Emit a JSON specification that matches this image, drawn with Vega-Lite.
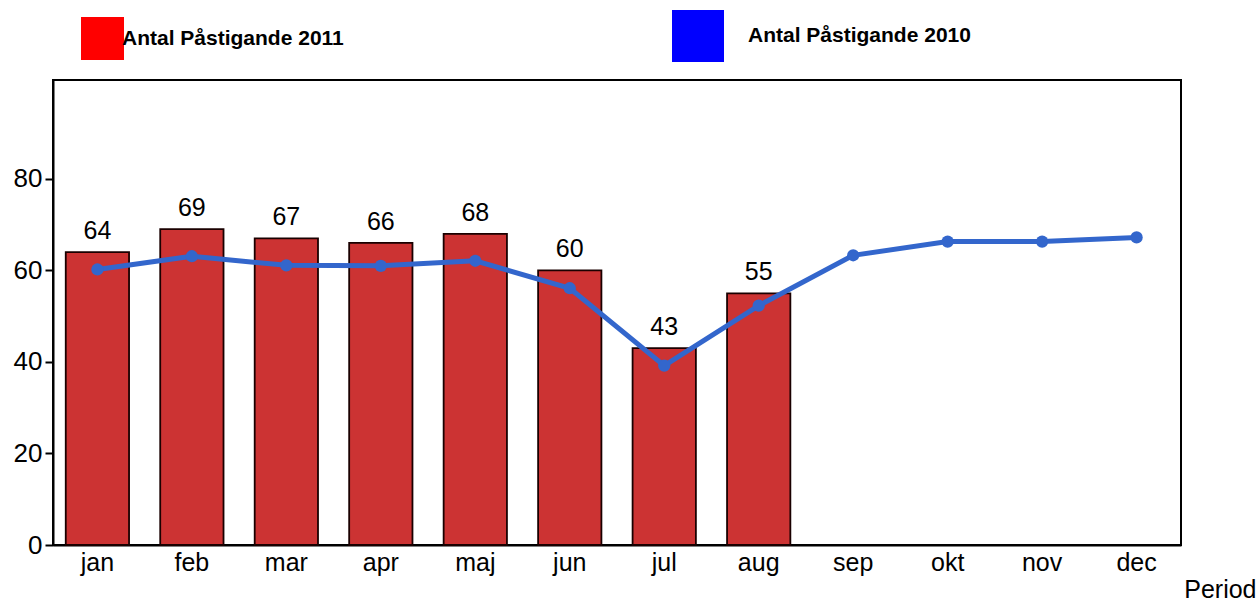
{
  "$schema": "https://vega.github.io/schema/vega-lite/v6.json",
  "width": 1128,
  "height": 465,
  "autosize": {"type": "none"},
  "padding": {"left": 53, "top": 80, "right": 79, "bottom": 56},
  "background": "white",
  "config": {
    "font": "Liberation Sans",
    "view": {"stroke": "black", "strokeWidth": 2},
    "axis": {"labelFont": "Liberation Sans", "titleFont": "Liberation Sans", "labelColor": "black", "titleColor": "black", "domainColor": "black", "tickColor": "black", "grid": false}
  },
  "data": {
    "values": [
      {"month": "jan", "v2011": 64, "v2010": 60.2},
      {"month": "feb", "v2011": 69, "v2010": 63.1},
      {"month": "mar", "v2011": 67, "v2010": 61.1},
      {"month": "apr", "v2011": 66, "v2010": 61},
      {"month": "maj", "v2011": 68, "v2010": 62.1},
      {"month": "jun", "v2011": 60, "v2010": 56.1},
      {"month": "jul", "v2011": 43, "v2010": 39.2},
      {"month": "aug", "v2011": 55, "v2010": 52.3},
      {"month": "sep", "v2011": null, "v2010": 63.3},
      {"month": "okt", "v2011": null, "v2010": 66.3},
      {"month": "nov", "v2011": null, "v2010": 66.3},
      {"month": "dec", "v2011": null, "v2010": 67.2}
    ]
  },
  "encoding": {
    "x": {
      "field": "month", "type": "nominal", "sort": null,
      "scale": {"paddingInner": 0.33, "paddingOuter": 0.135},
      "axis": {"labelAngle": 0, "labelFontSize": 25, "ticks": false, "labelPadding": 5, "domainWidth": 2,
               "title": "Period", "titleFontSize": 25, "titleFontWeight": "normal", "titleAlign": "right", "titleAnchor": "end", "titleBaseline": "middle", "titleX": 1203, "titleY": 44}
    }
  },
  "layer": [
    {
      "mark": {"type": "bar", "fill": "#cc3333", "stroke": "#1a0000", "strokeWidth": 1.8},
      "encoding": {
        "y": {"field": "v2011", "type": "quantitative",
              "scale": {"domain": [0, 101.6], "nice": false},
              "axis": {"title": null, "values": [0, 20, 40, 60, 80], "labelFontSize": 26, "tickSize": 8, "tickWidth": 2, "domainWidth": 2, "labelPadding": 3}}
      }
    },
    {
      "mark": {"type": "square", "fill": "#ff0000", "filled": true, "size": 0, "strokeWidth": 0},
      "encoding": {
        "y": {"field": "v2011", "type": "quantitative"},
        "opacity": {"datum": "Antal Påstigande 2011", "type": "nominal",
                 "scale": {"domain": ["Antal Påstigande 2011"], "range": [1]},
                 "legend": {"title": null, "orient": "none", "legendX": 28, "legendY": -63, "symbolType": "square", "symbolSize": 1849, "symbolStrokeWidth": 0, "symbolFillColor": "#ff0000", "labelOffset": -2, "labelFontSize": 21, "labelFontWeight": "bold", "labelColor": "black", "labelLimit": 0, "padding": 0}
        }
      }
    },
    {
      "mark": {"type": "text", "fontSize": 25, "dy": -21, "color": "black"},
      "encoding": {
        "y": {"field": "v2011", "type": "quantitative"},
        "text": {"field": "v2011", "type": "quantitative"}
      }
    },
    {
      "mark": {"type": "line", "strokeWidth": 5},
      "encoding": {
        "y": {"field": "v2010", "type": "quantitative"},
        "stroke": {"datum": "Antal Påstigande 2010", "type": "nominal",
                   "scale": {"domain": ["Antal Påstigande 2010"], "range": ["#3366cc"]},
                   "legend": {"title": null, "orient": "none", "legendX": 619, "legendY": -70, "symbolType": "square", "symbolSize": 2704, "symbolStrokeWidth": 0, "labelOffset": 24, "labelFontSize": 21, "labelFontWeight": "bold", "labelColor": "black", "labelLimit": 0, "padding": 0,
                              "encode": {"symbols": {"update": {"fill": {"value": "#0000ff"}, "stroke": {"value": "transparent"}, "strokeWidth": {"value": 0}}}}}
        }
      }
    },
    {
      "mark": {"type": "point", "filled": true, "size": 150, "color": "#3366cc", "opacity": 1},
      "encoding": {
        "y": {"field": "v2010", "type": "quantitative"}
      }
    }
  ]
}
